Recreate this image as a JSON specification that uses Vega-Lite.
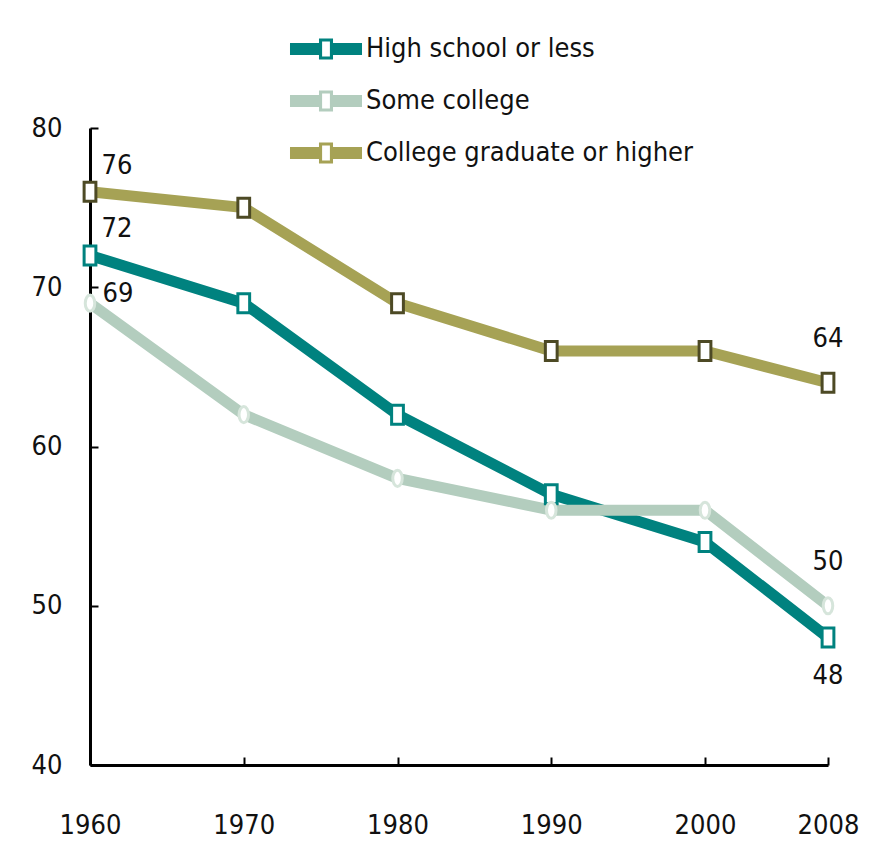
{
  "$schema": "https://vega.github.io/schema/vega-lite/v6.json",
  "width": 738,
  "height": 637,
  "autosize": {"type": "none"},
  "padding": {"left": 90, "top": 128, "right": 51, "bottom": 84},
  "background": "white",
  "config": {
    "view": {"stroke": null},
    "font": "DejaVu Sans Condensed, DejaVu Sans, sans-serif",
    "text": {"font": "DejaVu Sans Condensed, DejaVu Sans, sans-serif"}
  },
  "data": {
    "values": [
      {"year": 1960, "series": "High school or less", "value": 72},
      {"year": 1970, "series": "High school or less", "value": 69},
      {"year": 1980, "series": "High school or less", "value": 62},
      {"year": 1990, "series": "High school or less", "value": 57},
      {"year": 2000, "series": "High school or less", "value": 54},
      {"year": 2008, "series": "High school or less", "value": 48},
      {"year": 1960, "series": "Some college", "value": 69},
      {"year": 1970, "series": "Some college", "value": 62},
      {"year": 1980, "series": "Some college", "value": 58},
      {"year": 1990, "series": "Some college", "value": 56},
      {"year": 2000, "series": "Some college", "value": 56},
      {"year": 2008, "series": "Some college", "value": 50},
      {"year": 1960, "series": "College graduate or higher", "value": 76},
      {"year": 1970, "series": "College graduate or higher", "value": 75},
      {"year": 1980, "series": "College graduate or higher", "value": 69},
      {"year": 1990, "series": "College graduate or higher", "value": 66},
      {"year": 2000, "series": "College graduate or higher", "value": 66},
      {"year": 2008, "series": "College graduate or higher", "value": 64}
    ]
  },
  "encoding": {
    "x": {
      "field": "year",
      "type": "quantitative",
      "scale": {"domain": [1960, 2008], "nice": false, "zero": false},
      "axis": {
        "title": null,
        "values": [1960, 1970, 1980, 1990, 2000, 2008],
        "format": "d",
        "grid": false,
        "domainColor": "#000000",
        "domainWidth": 3,
        "tickColor": "#000000",
        "tickWidth": 2,
        "tickSize": -8,
        "labelPadding": 55,
        "labelFont": "DejaVu Sans Condensed, DejaVu Sans, sans-serif",
        "labelFontSize": 27,
        "labelColor": "#111111",
        "labelFlush": false,
        "labelOverlap": false
      }
    },
    "y": {
      "field": "value",
      "type": "quantitative",
      "scale": {"domain": [40, 80], "nice": false, "zero": false},
      "axis": {
        "title": null,
        "values": [40, 50, 60, 70, 80],
        "grid": false,
        "domainColor": "#000000",
        "domainWidth": 3,
        "tickColor": "#000000",
        "tickWidth": 2,
        "tickSize": -8,
        "labelPadding": 36,
        "labelFont": "DejaVu Sans Condensed, DejaVu Sans, sans-serif",
        "labelFontSize": 27,
        "labelColor": "#111111",
        "labelFlush": false
      }
    }
  },
  "layer": [
    {
      "mark": {"type": "line", "strokeWidth": 11, "strokeJoin": "round"},
      "encoding": {
        "color": {
          "field": "series",
          "type": "nominal",
          "scale": {
            "domain": ["High school or less", "Some college", "College graduate or higher"],
            "range": ["#00827F", "#B3CDBE", "#A6A255"]
          },
          "legend": {
            "title": null,
            "orient": "none",
            "legendX": 210,
            "legendY": -105,
            "padding": 0,
            "symbolType": "M-1.385,-0.235 L-0.27,-0.235 L-0.27,-0.4 L0.27,-0.4 L0.27,-0.235 L1.385,-0.235 L1.385,0.235 L0.27,0.235 L0.27,0.4 L-0.27,0.4 L-0.27,0.235 L-1.385,0.235 Z M-0.15,-0.29 L-0.15,0.29 L0.15,0.29 L0.15,-0.29 Z",
            "symbolSize": 2704,
            "symbolStrokeWidth": 0,
            "labelFont": "DejaVu Sans Condensed, DejaVu Sans, sans-serif",
            "labelFontSize": 27,
            "labelColor": "#111111",
            "labelOffset": 14,
            "labelLimit": 500,
            "rowPadding": 13,
            "encode": {
              "symbols": {
                "update": {
                  "fill": {"scale": "color", "field": "value"},
                  "stroke": {"value": "transparent"},
                  "opacity": {"value": 1}
                }
              }
            }
          }
        },
        "detail": {"field": "series"}
      }
    },
    {
      "transform": [{"filter": "datum.series == 'High school or less'"}],
      "mark": {"type": "point", "shape": "M-0.62,-1 L0.62,-1 L0.62,1 L-0.62,1 Z", "size": 361, "filled": false, "fill": "white", "fillOpacity": 1, "stroke": "#00827F", "strokeWidth": 3, "opacity": 1},
      "encoding": {}
    },
    {
      "transform": [{"filter": "datum.series == 'Some college'"}],
      "mark": {"type": "point", "shape": "M0,-0.85 A0.5,0.85 0 1,1 0,0.85 A0.5,0.85 0 1,1 0,-0.85 Z", "size": 361, "filled": false, "fill": "white", "fillOpacity": 1, "stroke": "#D6E5DB", "strokeWidth": 3, "opacity": 1},
      "encoding": {}
    },
    {
      "transform": [{"filter": "datum.series == 'College graduate or higher'"}],
      "mark": {"type": "point", "shape": "M-0.62,-1 L0.62,-1 L0.62,1 L-0.62,1 Z", "size": 361, "filled": false, "fill": "white", "fillOpacity": 1, "stroke": "#4D4A25", "strokeWidth": 3, "opacity": 1},
      "encoding": {}
    },
    {
      "transform": [{"filter": "datum.year == 1960 && datum.series != 'Some college'"}],
      "mark": {"type": "text", "fontSize": 27, "color": "#111111", "dx": 27, "dy": -26},
      "encoding": {"text": {"field": "value", "type": "quantitative"}}
    },
    {
      "transform": [{"filter": "datum.year == 1960 && datum.series == 'Some college'"}],
      "mark": {"type": "text", "fontSize": 27, "color": "#111111", "dx": 28, "dy": -9},
      "encoding": {"text": {"field": "value", "type": "quantitative"}}
    },
    {
      "transform": [{"filter": "datum.year == 2008 && datum.series != 'High school or less'"}],
      "mark": {"type": "text", "fontSize": 27, "color": "#111111", "dy": -44},
      "encoding": {"text": {"field": "value", "type": "quantitative"}}
    },
    {
      "transform": [{"filter": "datum.year == 2008 && datum.series == 'High school or less'"}],
      "mark": {"type": "text", "fontSize": 27, "color": "#111111", "dy": 38},
      "encoding": {"text": {"field": "value", "type": "quantitative"}}
    }
  ]
}
